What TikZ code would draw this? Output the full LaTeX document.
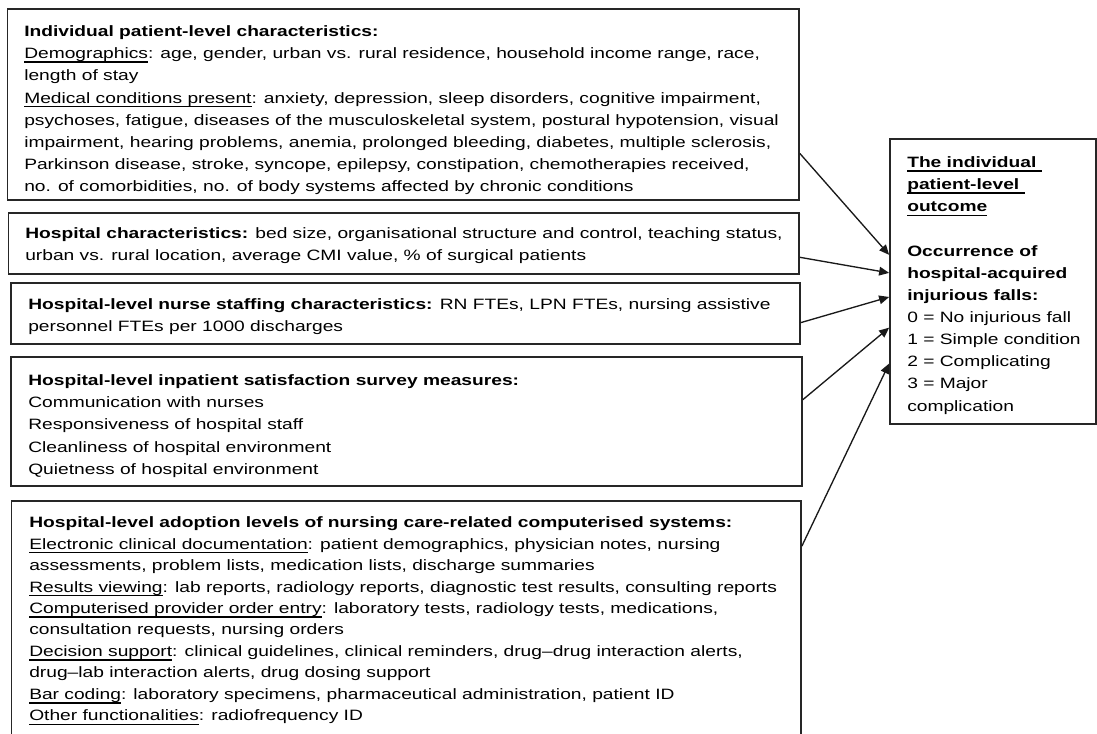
\documentclass[tikz,border=0pt]{standalone}
\usepackage{fontspec}
\setmainfont{Liberation Sans}[FakeStretch=1.28]
\usetikzlibrary{arrows.meta,calc}
\newcommand{\undl}[1]{\setbox0\hbox{#1}\rlap{\rule[-3.2pt]{\wd0}{1.2pt}}\box0}
\begin{document}
\begin{tikzpicture}[x=0.75pt,y=-0.75pt,
  box/.style={draw=black!85,line width=1.3pt,inner sep=0pt},
  txt/.style={anchor=north west,inner sep=0pt,align=left,font={\fontsize{11.25}{16.6}\selectfont}},
  arr/.style={-{Triangle[length=7.5pt,width=6.5pt]},line width=1pt,black!90}]
\useasboundingbox (0,0) rectangle (1097,733);
\node[box,minimum width=593.6pt,minimum height=143.25pt] (pat) at (403.25,104.5) {};
\node[txt] (pattxt) at (24,25.5) {\textbf{Individual patient-level characteristics:}\\
\undl{Demographics}: age, gender, urban vs. rural residence, household income range, race,\\
length of stay\\
\undl{Medical conditions present}: anxiety, depression, sleep disorders, cognitive impairment,\\
psychoses, fatigue, diseases of the musculoskeletal system, postural hypotension, visual\\
impairment, hearing problems, anemia, prolonged bleeding, diabetes, multiple sclerosis,\\
Parkinson disease, stroke, syncope, epilepsy, constipation, chemotherapies received,\\
no. of comorbidities, no. of body systems affected by chronic conditions};
\node[box,minimum width=592.9pt,minimum height=45.75pt] (hosp) at (403.75,243.5) {};
\node[txt] (hosptxt) at (25,227.5) {\textbf{Hospital characteristics:} bed size, organisational structure and control, teaching status,\\
urban vs. rural location, average CMI value, \% of surgical patients};
\node[box,minimum width=591.75pt,minimum height=45.75pt] (staff) at (405.5,313.5) {};
\node[txt] (stafftxt) at (28,298.5) {\textbf{Hospital-level nurse staffing characteristics:} RN FTEs, LPN FTEs, nursing assistive\\
personnel FTEs per 1000 discharges};
\node[box,minimum width=593.25pt,minimum height=96.75pt] (satis) at (406.5,421.5) {};
\node[txt] (satistxt) at (28,374.5) {\textbf{Hospital-level inpatient satisfaction survey measures:}\\
Communication with nurses\\
Responsiveness of hospital staff\\
Cleanliness of hospital environment\\
Quietness of hospital environment};
\node[box,minimum width=592.1pt,minimum height=186.75pt] (adopt) at (406.25,625.5) {};
\node[txt,font={\fontsize{11.25}{16.1}\selectfont}] (adopttxt) at (29,516.5) {\textbf{Hospital-level adoption levels of nursing care-related computerised systems:}\\
\undl{Electronic clinical documentation}: patient demographics, physician notes, nursing\\
assessments, problem lists, medication lists, discharge summaries\\
\undl{Results viewing}: lab reports, radiology reports, diagnostic test results, consulting reports\\
\undl{Computerised provider order entry}: laboratory tests, radiology tests, medications,\\
consultation requests, nursing orders\\
\undl{Decision support}: clinical guidelines, clinical reminders, drug--drug interaction alerts,\\
drug--lab interaction alerts, drug dosing support\\
\undl{Bar coding}: laboratory specimens, pharmaceutical administration, patient ID\\
\undl{Other functionalities}: radiofrequency ID};
\node[box,minimum width=154.5pt,minimum height=213.75pt] (outc) at (993,281.5) {};
\node[txt] (outctxt) at (907,156.5) {\textbf{\undl{The individual\ }}\\
\textbf{\undl{patient-level\ }}\\
\textbf{\undl{outcome}}\\
\mbox{}\\
\textbf{Occurrence of}\\
\textbf{hospital-acquired}\\
\textbf{injurious falls:}\\
0 = No injurious fall\\
1 = Simple condition\\
2 = Complicating\\
3 = Major\\
complication};
\draw[arr] ($(pat.north east)!0.754!(pat.south east)$) -- ($(outc.north west)!0.407!(outc.south west)$);
\draw[arr] ($(hosp.north east)!0.72!(hosp.south east)$) -- ($(outc.north west)!0.47!(outc.south west)$);
\draw[arr] ($(staff.north east)!0.645!(staff.south east)$) -- ($(outc.north west)!0.554!(outc.south west)$);
\draw[arr] ($(satis.north east)!0.333!(satis.south east)$) -- ($(outc.north west)!0.661!(outc.south west)$);
\draw[arr] ($(adopt.north east)+(0,46)$) -- ($(outc.north west)!0.786!(outc.south west)$);
\end{tikzpicture}
\end{document}
